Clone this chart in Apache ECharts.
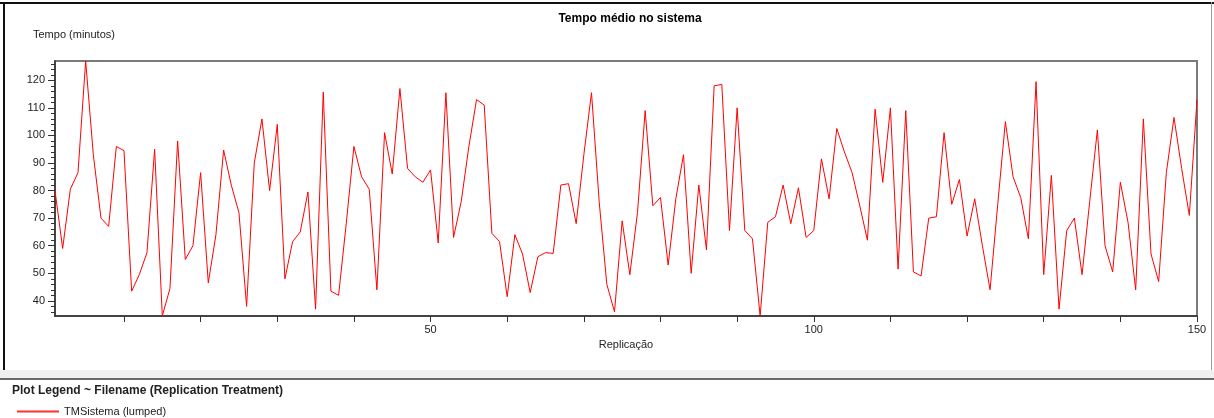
<!DOCTYPE html>
<html>
<head>
    <meta charset="utf-8">
    <title>Tempo médio no sistema</title>
    <script src="https://cdn.jsdelivr.net/npm/echarts@6/dist/echarts.min.js"></script>
    <style>
        html, body { margin: 0; padding: 0; background: #fff; }
    </style>
</head>
<body>
    <div id="main" style="width: 1214px;height:418px;"></div>
    <script type="text/javascript">
        var replicacoes = [];
        for (var r = 1; r <= 150; r++) replicacoes.push(r);

        var tmSistema = [
            80, 59, 80.5, 86.5, 127, 93, 70, 67, 96, 94.5,
            43.5, 49.5, 57.5, 95, 34.5, 44.5, 98, 55, 60, 86.5,
            46.5, 64, 94.7, 82, 72, 38, 90, 106, 80, 104,
            48, 61.5, 65, 79.5, 37, 115.7, 43.5, 42, 68, 96,
            85, 80.5, 44, 101, 86, 117, 88, 85, 83, 87.5,
            61, 115.5, 63, 76, 96, 113, 111, 64.5, 61.5, 41.5,
            64, 57, 43, 56, 57.5, 57.2, 82, 82.5, 68, 93,
            115.5, 76, 46, 36, 69, 49.5, 72, 109, 74.5, 77.5,
            53, 77, 93, 50, 82, 58.5, 118, 118.5, 65.5, 110,
            65.5, 62.5, 34.5, 68.5, 70.5, 82, 68, 81, 63, 65.5,
            91.5, 77, 102.5, 94, 86.5, 74.5, 62, 109.5, 83, 110,
            51.5, 109, 50.5, 49, 70, 70.5, 101, 75, 84, 63.5,
            77, 60, 44, 75, 105, 85, 77.5, 62.5, 119.5, 49.5,
            85.5, 37, 65.5, 70, 49.5, 76, 102, 60, 50.5, 83,
            68.5, 44, 106, 57, 47, 86.5, 106.5, 88, 71, 113
        ];

        var xTicks = [10, 20, 30, 40, 50, 60, 70, 80, 90, 100, 110, 120, 130, 140, 150];
        var xLabels = [50, 100, 150];
        var yLabels = [40, 50, 60, 70, 80, 90, 100, 110, 120];
        var yMinorTicks = [];
        for (var t = 36; t <= 126; t += 2) yMinorTicks.push(t);

        var fonte = '"Liberation Sans", Arial, sans-serif';
        var myChart = echarts.init(document.getElementById('main'));

        var pontos = replicacoes.map(function (x, i) { return [x, tmSistema[i]]; });

        var option = {
            backgroundColor: '#fff',
            animation: false,
            textStyle: { fontFamily: fonte },
            title: {
                text: 'Tempo médio no sistema',
                left: 625, top: 8, textAlign: 'center',
                textStyle: { fontSize: 12, fontWeight: 'bold', color: '#000', fontFamily: fonte }
            },
            grid: {
                left: 55, right: 17, top: 61, bottom: 102,
                show: true, borderColor: '#7a7a7a', borderWidth: 2
            },
            legend: {
                left: 12, top: 401,
                icon: 'rect',
                itemWidth: 42, itemHeight: 2, itemGap: 10,
                itemStyle: { color: '#ff3030', borderWidth: 0 },
                lineStyle: { color: '#ff3030' },
                textStyle: { fontSize: 11, color: '#222', fontFamily: fonte },
                data: ['TMSistema (lumped)']
            },
            xAxis: {
                type: 'value', min: 1, max: 150,
                name: 'Replicação', nameLocation: 'middle', nameGap: 22,
                nameTextStyle: { fontSize: 11, color: '#222' },
                axisLine: { lineStyle: { color: '#333', width: 1.5 } },
                axisTick: { customValues: xTicks, length: 6, lineStyle: { color: '#333' } },
                axisLabel: { customValues: xLabels, fontSize: 11, color: '#222', margin: 8 },
                splitLine: { show: false }
            },
            yAxis: [{
                type: 'value', min: 34.5, max: 127,
                axisLine: { show: true, lineStyle: { color: '#333', width: 1.5 } },
                axisTick: { customValues: yLabels, length: 7, lineStyle: { color: '#333' } },
                axisLabel: { customValues: yLabels, fontSize: 11, color: '#222', margin: 10 },
                splitLine: { show: false }
            }, {
                type: 'value', min: 34.5, max: 127, position: 'left',
                axisLine: { show: false },
                axisTick: { customValues: yMinorTicks, length: 4, lineStyle: { color: '#333' } },
                axisLabel: { show: false },
                splitLine: { show: false }
            }],
            graphic: [
                { type: 'text', left: 33, top: 29,
                  style: { text: 'Tempo (minutos)', fontSize: 11, fill: '#222', fontFamily: fonte } },
                { type: 'rect', shape: { x: 0, y: 2, width: 1214, height: 2 }, style: { fill: '#111' } },
                { type: 'rect', shape: { x: 3, y: 2, width: 2, height: 376 }, style: { fill: '#111' } },
                { type: 'rect', shape: { x: 1211, y: 2, width: 1, height: 376 }, style: { fill: '#999' } },
                { type: 'rect', shape: { x: 0, y: 370, width: 1214, height: 8 }, style: { fill: '#f0f0f0' } },
                { type: 'rect', shape: { x: 0, y: 378, width: 1214, height: 2 }, style: { fill: '#6a6a6a' } },
                { type: 'text', left: 12, top: 385,
                  style: { text: 'Plot Legend ~ Filename (Replication Treatment)', fontSize: 12,
                           fontWeight: 'bold', fill: '#222', fontFamily: fonte } }
            ],
            series: [{
                name: 'TMSistema (lumped)',
                type: 'line',
                symbol: 'none',
                data: pontos,
                lineStyle: { color: '#ff0000', width: 1 },
                itemStyle: { color: '#ff0000' }
            }]
        };

        myChart.setOption(option);
    </script>
</body>
</html>
